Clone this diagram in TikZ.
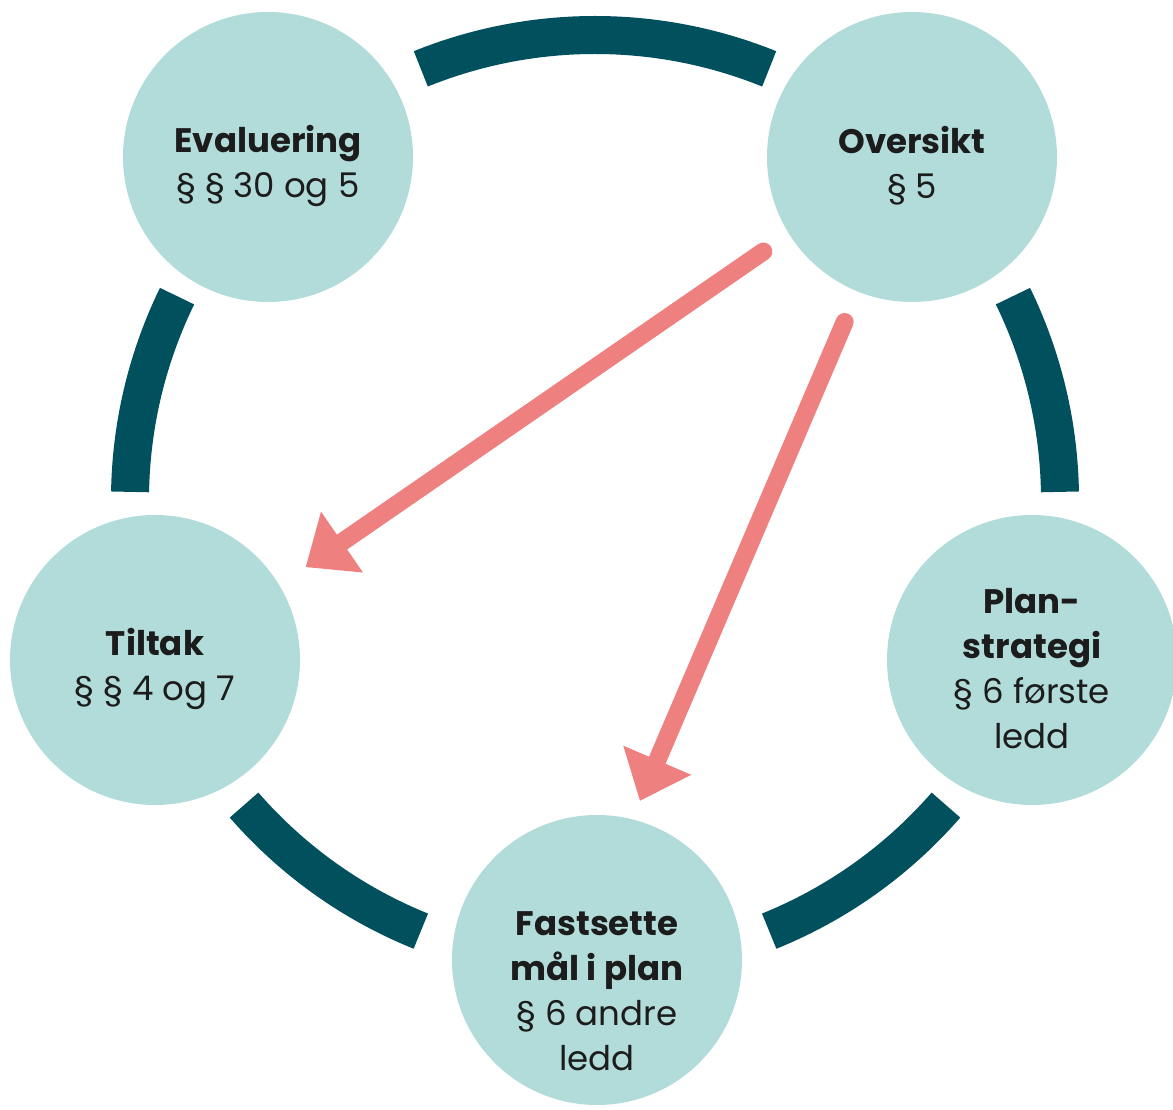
\documentclass[tikz,border=0pt]{standalone}
\usepackage{fontspec}
\setmainfont{Poppins}
\usetikzlibrary{arrows.meta,positioning}
\definecolor{mint}{HTML}{B2DCDA}
\definecolor{petrol}{HTML}{00505D}
\definecolor{salmon}{HTML}{EF8080}
\definecolor{ink}{HTML}{1C1C1C}
\tikzstyle{stage}   = [circle, fill=mint, minimum size=290pt, inner sep=0pt]
\tikzstyle{caption} = [align=center, text=ink, yshift=-9pt, font=\fontsize{34}{45}\selectfont]
\tikzstyle{ring}    = [draw=petrol, line width=38pt]
\tikzstyle{flow}    = [draw=salmon, line width=18pt, line cap=round, -{Triangle[length=44pt, width=74pt, line width=0pt]}]

\begin{document}
\begin{tikzpicture}[x=1pt, y=1pt]
	\useasboundingbox (0,0) rectangle (1173,1109);
	% Ring Setting %
	\coordinate (hub) at (595,609);
	\foreach \from/\to in {68/112, 154/179, 221/248, 292/319, 1/26}
		\draw [ring] ([shift={(\from:465)}]hub) arc [start angle=\from, end angle=\to, radius=465pt];
	% Node Setting %
	\node [stage] (eval)   at (268,952) {};
	\node [stage] (overs)  at (912,952) {};
	\node [stage] (plan)   at (1032,449) {};
	\node [stage] (fast)   at (597,149) {};
	\node [stage] (tiltak) at (155,449) {};
	\node [caption] (evaltxt)   at (eval)   {\textbf{Evaluering}\\§ § 30 og 5};
	\node [caption] (overstxt)  at (overs)  {\textbf{Oversikt}\\§ 5};
	\node [caption] (plantxt)   at (plan)   {\textbf{Plan-}\\\textbf{strategi}\\§ 6 første\\ledd};
	\node [caption, yshift=-22pt] (fasttxt) at (fast) {\textbf{Fastsette}\\\textbf{mål i plan}\\§ 6 andre\\ledd};
	\node [caption] (tiltaktxt) at (tiltak) {\textbf{Tiltak}\\§ § 4 og 7};
	% Connection %
	\path [flow, shorten <=31pt, shorten >=32pt] (overs.212) -- (tiltak.31);
	\path [flow, shorten <=33pt, shorten >=20pt] (overs.248) -- (fast.76);
\end{tikzpicture}
\end{document}
